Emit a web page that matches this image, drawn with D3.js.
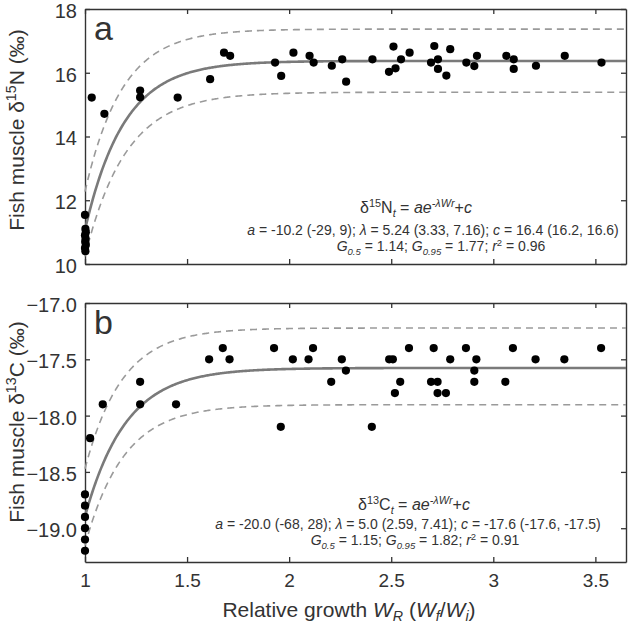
<!DOCTYPE html>
<html>
<head>
<meta charset="utf-8">
<script src="https://cdn.jsdelivr.net/npm/d3@7"></script>
<style>
  html, body { margin: 0; padding: 0; background: #fff; }
  svg { display: block; }
  text { font-family: "Liberation Sans", Arial, sans-serif; fill: #333; }
</style>
</head>
<body>
<svg id="chart" width="629" height="628"></svg>
<script>
// ---------------- data ----------------
const xTicks = [1, 1.5, 2, 2.5, 3, 3.5];
const nTicks = [10, 12, 14, 16, 18];
const cTicks = [-19.0, -18.5, -18.0, -17.5, -17.0];

// Panel a: δ15N
const nX = [1.0, 1.002, 1.004, 1.0, 1.003, 1.001, 1.004, 1.0, 1.002,
  1.033, 1.095, 1.27, 1.27, 1.454, 1.613, 1.681, 1.711, 1.931, 1.961, 2.021, 2.1, 2.12,
  2.209, 2.26, 2.279, 2.408, 2.489, 2.511, 2.521, 2.548, 2.59, 2.695, 2.711, 2.729, 2.729,
  2.77, 2.789, 2.868, 2.92, 2.907, 3.064, 3.1, 3.1, 3.209, 3.35, 3.53];
const nY = [11.54, 11.1, 11.0, 10.9, 10.8, 10.7, 10.6, 10.5, 10.4,
  15.22, 14.71, 15.44, 15.23, 15.22, 15.80, 16.63, 16.53, 16.32, 15.90, 16.63, 16.53, 16.32,
  16.22, 16.42, 15.72, 16.42, 16.03, 16.82, 16.14, 16.42, 16.63, 16.32, 16.84, 16.42, 16.12,
  15.91, 16.74, 16.32, 16.53, 16.21, 16.53, 16.42, 16.12, 16.22, 16.53, 16.32];

// Panel b: δ13C
const cX = [1.0, 1.0, 1.0, 1.0, 1.0, 1.0,
  1.025, 1.087, 1.27, 1.27, 1.446, 1.608, 1.675, 1.708, 1.926, 1.959, 2.018, 2.095, 2.117,
  2.206, 2.258, 2.278, 2.405, 2.49, 2.508, 2.518, 2.544, 2.587, 2.695, 2.708, 2.727, 2.727,
  2.768, 2.789, 2.866, 2.907, 2.907, 2.917, 3.059, 3.096, 3.207, 3.348, 3.528];
const cY = [-18.7, -18.8, -18.9, -19.0, -19.1, -19.2,
  -18.2, -17.9, -17.7, -17.9, -17.9, -17.5, -17.4, -17.5, -17.4, -18.1, -17.5, -17.5, -17.4,
  -17.7, -17.5, -17.6, -18.1, -17.5, -17.5, -17.8, -17.7, -17.4, -17.7, -17.4, -17.7, -17.8,
  -17.8, -17.5, -17.4, -17.6, -17.7, -17.5, -17.7, -17.4, -17.5, -17.5, -17.4];

// fitted model curves: y = c + a * exp(-k (W - 1))  [fit, upper band, lower band]
const nFit   = { c: 16.37, a: -5.30, k: 5.24 };
const nUpper = { c: 17.37, a: -5.10, k: 5.5 };
const nLower = { c: 15.39, a: -5.15, k: 5.0 };
const cFit   = { c: -17.577, a: -1.32, k: 5.0 };
const cUpper = { c: -17.222, a: -1.25, k: 5.5 };
const cLower = { c: -17.903, a: -1.25, k: 5.3 };

// ---------------- layout ----------------
const svg = d3.select("#chart");
const FONT = '"Liberation Sans", Arial, sans-serif';
const left = 85, right = 626;
const x = d3.scaleLinear().domain([1, 3.65]).range([left, right]);

function rich(sel, parts, fs, subShift) {
  let shift = 0;
  const sb = subShift == null ? 0.25 : subShift;
  parts.forEach(p => {
    const target = p.sup ? -0.38 * fs : p.sub ? sb * fs : 0;
    const ts = sel.append("tspan").text(p.t);
    if (target !== shift) { ts.attr("dy", target - shift); shift = target; }
    if (p.sup || p.sub) ts.attr("font-size", fs * 0.68);
    if (p.it) ts.attr("font-style", "italic");
  });
  return sel;
}

function panel(opts) {
  const { top, bottom, yDomain, yTicks, fmt, xs, ys, fit, upper, lower, label, ylabel, eq, showX } = opts;
  const y = d3.scaleLinear().domain(yDomain).range([bottom, top]);
  const g = svg.append("g");

  const styleAxis = a => {
    a.selectAll("path.domain").attr("stroke", "#333").attr("stroke-width", 1.4);
    a.selectAll(".tick line").attr("stroke", "#333").attr("stroke-width", 1.3);
    a.selectAll("text").attr("font-family", FONT).attr("fill", "#333");
  };
  const axL = g.append("g").attr("transform", `translate(${left},0)`)
    .call(d3.axisLeft(y).tickValues(yTicks).tickFormat(fmt).tickSizeInner(-5).tickSizeOuter(0).tickPadding(8));
  axL.selectAll("text").attr("font-size", 20).attr("dy", "0.42em");
  styleAxis(axL);
  const axR = g.append("g").attr("transform", `translate(${right},0)`)
    .call(d3.axisRight(y).tickValues(yTicks).tickFormat("").tickSizeInner(-5).tickSizeOuter(0));
  styleAxis(axR);
  const axB = g.append("g").attr("transform", `translate(0,${bottom})`)
    .call(d3.axisBottom(x).tickValues(xTicks).tickFormat(showX ? d3.format("") : "").tickSizeInner(-5).tickSizeOuter(0).tickPadding(12));
  axB.selectAll("text").attr("font-size", 19).attr("dy", "0.71em");
  styleAxis(axB);
  const axT = g.append("g").attr("transform", `translate(0,${top})`)
    .call(d3.axisTop(x).tickValues(xTicks).tickFormat("").tickSizeInner(-5).tickSizeOuter(0));
  styleAxis(axT);

  const ws = d3.range(1, 3.6501, 0.005);
  const line = m => d3.line().x(w => x(w)).y(w => y(m.c + m.a * Math.exp(-m.k * (w - 1))))(ws);
  [upper, lower].forEach(m => g.append("path").attr("d", line(m)).attr("fill", "none")
    .attr("stroke", "#9a9a9a").attr("stroke-width", 1.6).attr("stroke-dasharray", "7,5"));
  g.append("path").attr("d", line(fit)).attr("fill", "none")
    .attr("stroke", "#7a7a7a").attr("stroke-width", 2.6);

  g.selectAll("circle.pt").data(xs.map((v, i) => [v, ys[i]])).join("circle")
    .attr("class", "pt").attr("cx", d => x(d[0])).attr("cy", d => y(d[1])).attr("r", 4.1)
    .attr("fill", "#000");

  g.append("text").attr("x", 94).attr("y", top + 31).attr("font-size", 34).attr("fill", "#111").text(label);

  const yt = g.append("text").attr("transform", `translate(24,${ylabel.cy}) rotate(-90)`)
    .attr("text-anchor", "middle").attr("font-size", 21).attr("fill", "#333");
  rich(yt, ylabel.parts, 21);

  eq.forEach(e => {
    const t = g.append("text").attr("x", e.x).attr("y", e.y).attr("text-anchor", "middle")
      .attr("font-size", e.fs).attr("fill", "#333");
    rich(t, e.parts, e.fs);
  });
}

panel({
  top: 9, bottom: 264, yDomain: [10, 18], yTicks: nTicks, fmt: d3.format("d"),
  xs: nX, ys: nY, fit: nFit, upper: nUpper, lower: nLower, label: "a", showX: false,
  ylabel: { cy: 130, parts: [{ t: "Fish muscle δ" }, { t: "15", sup: true }, { t: "N (‰)" }] },
  eq: [
    { x: 416, y: 213, fs: 16, parts: [{ t: "δ" }, { t: "15", sup: true }, { t: "N" }, { t: "t", sub: true, it: true },
      { t: " = " }, { t: "ae", it: true }, { t: "-λWr", sup: true, it: true }, { t: "+" }, { t: "c", it: true }] },
    { x: 433, y: 235, fs: 14, parts: [{ t: "a", it: true }, { t: " = -10.2 (-29, 9); " }, { t: "λ", it: true },
      { t: " = 5.24 (3.33, 7.16); " }, { t: "c", it: true }, { t: " = 16.4 (16.2, 16.6)" }] },
    { x: 441, y: 251, fs: 14, parts: [{ t: "G", it: true }, { t: "0.5", sub: true, it: true }, { t: " = 1.14; " },
      { t: "G", it: true }, { t: "0.95", sub: true, it: true }, { t: " = 1.77; " }, { t: "r", it: true },
      { t: "2", sup: true }, { t: " = 0.96" }] }
  ]
});

panel({
  top: 303, bottom: 562, yDomain: [-19.3, -17], yTicks: cTicks, fmt: d3.format(".1f"),
  xs: cX, ys: cY, fit: cFit, upper: cUpper, lower: cLower, label: "b", showX: true,
  ylabel: { cy: 422, parts: [{ t: "Fish muscle δ" }, { t: "13", sup: true }, { t: "C (‰)" }] },
  eq: [
    { x: 414, y: 510, fs: 16, parts: [{ t: "δ" }, { t: "13", sup: true }, { t: "C" }, { t: "t", sub: true, it: true },
      { t: " = " }, { t: "ae", it: true }, { t: "-λWr", sup: true, it: true }, { t: "+" }, { t: "c", it: true }] },
    { x: 408, y: 529, fs: 14, parts: [{ t: "a", it: true }, { t: " = -20.0 (-68, 28); " }, { t: "λ", it: true },
      { t: " = 5.0 (2.59, 7.41); " }, { t: "c", it: true }, { t: " = -17.6 (-17.6, -17.5)" }] },
    { x: 415, y: 545, fs: 14, parts: [{ t: "G", it: true }, { t: "0.5", sub: true, it: true }, { t: " = 1.15; " },
      { t: "G", it: true }, { t: "0.95", sub: true, it: true }, { t: " = 1.82; " }, { t: "r", it: true },
      { t: "2", sup: true }, { t: " = 0.91" }] }
  ]
});

const xt = svg.append("text").attr("x", 349).attr("y", 617).attr("text-anchor", "middle")
  .attr("font-size", 21).attr("fill", "#333");
rich(xt, [{ t: "Relative growth " }, { t: "W", it: true }, { t: "R", sub: true, it: true }, { t: " (" },
  { t: "W", it: true }, { t: "f", sub: true, it: true }, { t: "/" }, { t: "W", it: true }, { t: "i", sub: true, it: true },
  { t: ")" }], 21, 0.2);
</script>
</body>
</html>
